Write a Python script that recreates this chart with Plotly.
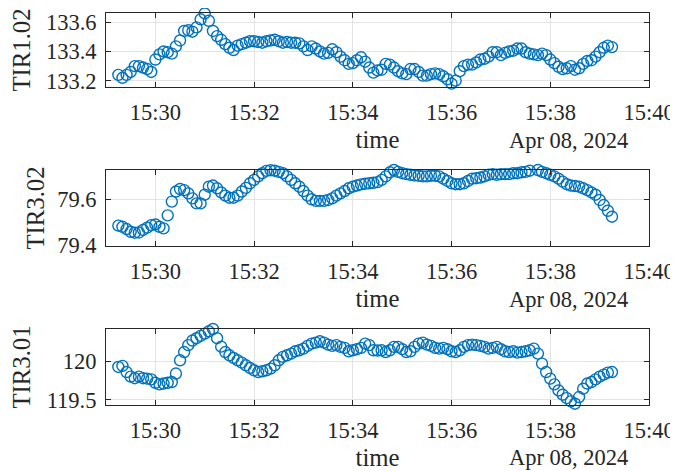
import pandas as pd
import plotly.graph_objects as go
from plotly.subplots import make_subplots

# sampling: every 5 s from 15:29:15 to 15:39:15
start_time = "2024-04-08 15:29:15"
period_s = 5

tir1_02 = [133.24, 133.22, 133.24, 133.26, 133.30, 133.30, 133.29, 133.28, 133.26, 133.345,
           133.38, 133.40, 133.395, 133.385, 133.435, 133.475, 133.54, 133.545, 133.535, 133.565,
           133.62, 133.66, 133.61, 133.54, 133.505, 133.48, 133.45, 133.425, 133.41, 133.44,
           133.45, 133.46, 133.47, 133.47, 133.465, 133.46, 133.47, 133.475, 133.48, 133.47,
           133.46, 133.465, 133.46, 133.46, 133.455, 133.435, 133.41, 133.435, 133.42, 133.40,
           133.385, 133.39, 133.415, 133.395, 133.365, 133.34, 133.315, 133.32, 133.34, 133.36,
           133.33, 133.29, 133.255, 133.27, 133.275, 133.315, 133.31, 133.29, 133.265, 133.25,
           133.245, 133.28, 133.28, 133.26, 133.235, 133.235, 133.245, 133.25, 133.245, 133.23,
           133.21, 133.18, 133.20, 133.265, 133.30, 133.31, 133.31, 133.325, 133.345, 133.35,
           133.365, 133.395, 133.395, 133.375, 133.39, 133.40, 133.405, 133.42, 133.42, 133.395,
           133.385, 133.38, 133.375, 133.385, 133.375, 133.345, 133.32, 133.295, 133.28, 133.285,
           133.30, 133.275, 133.285, 133.315, 133.335, 133.34, 133.365, 133.395, 133.425, 133.44,
           133.43]

tir3_02 = [79.485, 79.48, 79.47, 79.458, 79.454, 79.455, 79.466, 79.476, 79.487, 79.49,
           79.48, 79.473, 79.53, 79.59, 79.634, 79.645, 79.64, 79.626, 79.604, 79.582,
           79.582, 79.62, 79.655, 79.66, 79.648, 79.63, 79.616, 79.607, 79.607, 79.616,
           79.634, 79.65, 79.67, 79.685, 79.70, 79.714, 79.724, 79.727, 79.725, 79.72,
           79.714, 79.70, 79.685, 79.67, 79.655, 79.636, 79.616, 79.60, 79.593, 79.593,
           79.593, 79.597, 79.604, 79.616, 79.626, 79.636, 79.648, 79.655, 79.66, 79.665,
           79.668, 79.67, 79.672, 79.675, 79.685, 79.70, 79.718, 79.728, 79.72, 79.714,
           79.71, 79.707, 79.704, 79.703, 79.70, 79.70, 79.703, 79.703, 79.70, 79.69,
           79.68, 79.67, 79.666, 79.666, 79.67, 79.68, 79.69, 79.692, 79.695, 79.70,
           79.707, 79.71, 79.707, 79.71, 79.71, 79.71, 79.714, 79.714, 79.718, 79.72,
           79.725, 79.732, 79.728, 79.72, 79.714, 79.707, 79.70, 79.69, 79.677, 79.666,
           79.66, 79.658, 79.655, 79.648, 79.64, 79.63, 79.62, 79.597, 79.575, 79.55,
           79.524]

tir3_01 = [119.926, 119.94, 119.86, 119.80, 119.78, 119.80, 119.78, 119.774, 119.765, 119.72,
           119.70, 119.71, 119.72, 119.73, 119.84, 120.013, 120.12, 120.21, 120.27, 120.30,
           120.33, 120.36, 120.39, 120.42, 120.30, 120.19, 120.12, 120.078, 120.043, 120.013,
           119.983, 119.948, 119.913, 119.883, 119.86, 119.87, 119.883, 119.904, 119.948, 120.013,
           120.057, 120.078, 120.10, 120.13, 120.143, 120.165, 120.20, 120.23, 120.243, 120.26,
           120.243, 120.217, 120.20, 120.21, 120.187, 120.174, 120.13, 120.143, 120.157, 120.174,
           120.23, 120.21, 120.143, 120.14, 120.143, 120.12, 120.143, 120.187, 120.187, 120.157,
           120.12, 120.13, 120.187, 120.23, 120.243, 120.217, 120.20, 120.174, 120.165, 120.174,
           120.157, 120.13, 120.12, 120.143, 120.187, 120.21, 120.217, 120.21, 120.20, 120.187,
           120.165, 120.174, 120.187, 120.157, 120.13, 120.12, 120.13, 120.113, 120.12, 120.13,
           120.143, 120.165, 120.10, 119.97, 119.86, 119.774, 119.70, 119.62, 119.565, 119.52,
           119.478, 119.448, 119.535, 119.643, 119.71, 119.73, 119.765, 119.80, 119.826, 119.852,
           119.86]

series_names = ["TIR1.02", "TIR3.02", "TIR3.01"]
series_values = [tir1_02, tir3_02, tir3_01]
y_ranges = [[133.157, 133.663], [79.396, 79.728], [119.431, 120.42]]
y_dticks = [0.2, 0.2, 0.5]
x_range = ["2024-04-08 15:29:00", "2024-04-08 15:40:00"]
date_label = "Apr 08, 2024"
x_title = "time"

times = pd.date_range(start=start_time, periods=len(tir1_02), freq=f"{period_s}s")

BLUE = "#0072BD"
AX = "#262626"
GRID = "#e3e3e3"
FONT = "Liberation Serif, Times New Roman, serif"
TICK_SIZE = 22.5
LABEL_SIZE = 24.75

# the page body adds an 8 px offset; figure is sized to fill the window
OFF = 8
W, H = 678 - OFF, 471 - OFF
L, R, T, B = 106 - OFF, 29, 13 - OFF, 66
PW = W - L - R
PH = H - T - B
# plot boxes in window pixel rows (top, bottom)
boxes = [(13, 87), (170, 246), (329, 405)]
y_title_standoff = [9, 5, 9]

fig = make_subplots(rows=3, cols=1)
annotations = []
for i, (name, vals) in enumerate(zip(series_names, series_values)):
    r = i + 1
    fig.add_trace(go.Scatter(
        x=times, y=vals, mode="markers",
        marker=dict(symbol="circle-open", size=11, color=BLUE, line=dict(width=1.4, color=BLUE)),
        cliponaxis=False, showlegend=False), row=r, col=1)
    top, bot = boxes[i]
    top, bot = top - OFF, bot - OFF
    dom = [(T + PH - bot) / PH, (T + PH - top) / PH]
    xa = "xaxis" if r == 1 else f"xaxis{r}"
    ya = "yaxis" if r == 1 else f"yaxis{r}"
    fig.layout[xa].update(
        domain=[0, 1], range=x_range, type="date", tickformat="%H:%M", dtick=120000,
        tick0="2024-04-08 15:30:00", automargin=False,
        ticks="inside", ticklen=5, tickcolor=AX, showline=True, linecolor=AX, linewidth=1,
        mirror="ticks", showgrid=True, gridcolor=GRID, gridwidth=1, zeroline=False,
        tickfont=dict(family=FONT, size=TICK_SIZE, color=AX),
        title=dict(text=x_title, font=dict(family=FONT, size=LABEL_SIZE, color=AX), standoff=6),
        ticklabelstandoff=5,
    )
    fig.layout[ya].update(
        domain=dom, range=y_ranges[i], dtick=y_dticks[i], tick0=0, automargin=False,
        ticks="inside", ticklen=5, tickcolor=AX, showline=True, linecolor=AX, linewidth=1,
        mirror="ticks", showgrid=True, gridcolor=GRID, gridwidth=1, zeroline=False,
        tickfont=dict(family=FONT, size=TICK_SIZE, color=AX),
        title=dict(text=name, font=dict(family=FONT, size=LABEL_SIZE, color=AX),
                   standoff=y_title_standoff[i]),
        ticklabelstandoff=4,
    )
    # date label under the right part of each x axis
    y_px = bot + 53
    annotations.append(dict(
        text=date_label, xref="paper", yref="paper",
        x=(568 - 106) / PW, y=(T + PH - y_px) / PH,
        xanchor="center", yanchor="middle", showarrow=False,
        font=dict(family=FONT, size=TICK_SIZE, color=AX)))

fig.update_layout(
    width=W, height=H, margin=dict(l=L, r=R, t=T, b=B),
    paper_bgcolor="white", plot_bgcolor="white",
    annotations=annotations,
)
fig.write_html("out.html")
